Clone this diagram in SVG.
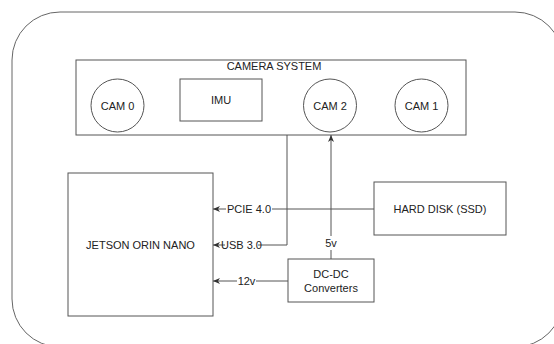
<svg xmlns="http://www.w3.org/2000/svg" width="554" height="344" viewBox="0 0 554 344">
<defs>
<marker id="arr" markerWidth="8" markerHeight="8" refX="7" refY="4" orient="auto" markerUnits="userSpaceOnUse">
<path d="M0,1 L7,4 L0,7 L2,4 Z" fill="#333"/>
</marker>
<style>
.box{fill:#fff;stroke:#555;stroke-width:1}
.ln{fill:none;stroke:#555;stroke-width:1}
.t{font-family:"Liberation Sans",Arial,sans-serif;font-size:11px;fill:#222;text-anchor:middle;dominant-baseline:central}
.lbl{fill:#fff;stroke:none}
</style>
</defs>
<rect width="554" height="344" fill="#fff"/>
<g id="outer"><rect x="12" y="12" width="551" height="335" rx="48" ry="48" fill="none" stroke="#666" stroke-width="1"/></g>
<g id="camera-system"><rect class="box" x="76" y="60" width="390" height="75"/><text class="t" x="274" y="66">CAMERA SYSTEM</text></g>
<g id="cam0"><circle class="box" cx="117.5" cy="105.5" r="26.5"/><text class="t" x="117.5" y="105.5">CAM 0</text></g>
<g id="imu"><rect class="box" x="180" y="79" width="82" height="42"/><text class="t" x="221" y="100">IMU</text></g>
<g id="cam2"><circle class="box" cx="330" cy="105.5" r="26.5"/><text class="t" x="330" y="105.5">CAM 2</text></g>
<g id="cam1"><circle class="box" cx="421.5" cy="105.5" r="26.5"/><text class="t" x="421.5" y="105.5">CAM 1</text></g>
<g id="jetson"><rect class="box" x="68" y="173" width="145" height="143"/><text class="t" x="140.5" y="245">JETSON ORIN NANO</text></g>
<g id="ssd"><rect class="box" x="374" y="182" width="132" height="53"/><text class="t" x="440" y="208.5">HARD DISK (SSD)</text></g>
<g id="dcdc"><rect class="box" x="288" y="259" width="86" height="43"/><text class="t" x="331" y="274">DC-DC</text><text class="t" x="331" y="288">Converters</text></g>
<g id="connectors">
<path class="ln" d="M374,209 H213" marker-end="url(#arr)"/>
<path class="ln" d="M287,135 V245 H213" marker-end="url(#arr)"/>
<path class="ln" d="M288,281 H213" marker-end="url(#arr)"/>
<path class="ln" d="M331,259 V135" marker-end="url(#arr)"/>
<rect class="lbl" x="226" y="202" width="46" height="14"/><text class="t" x="249" y="209">PCIE 4.0</text>
<rect class="lbl" x="225" y="238" width="33" height="14"/><text class="t" x="241.5" y="245">USB 3.0</text>
<rect class="lbl" x="237" y="274" width="19" height="14"/><text class="t" x="246.5" y="281">12v</text>
<rect class="lbl" x="324" y="236" width="14" height="14"/><text class="t" x="331" y="243">5v</text>
</g>
</svg>
